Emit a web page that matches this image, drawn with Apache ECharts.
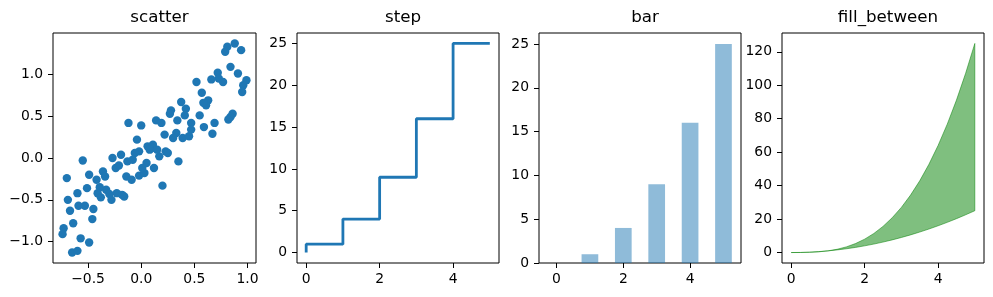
<!DOCTYPE html>
<html><head><meta charset="utf-8">
<script src="https://cdn.jsdelivr.net/npm/echarts@6/dist/echarts.min.js"></script>
<style>html,body{margin:0;padding:0;background:#fff}#c{width:993px;height:297px}</style>
</head><body><div id="c"></div>
<script>
// ---- data ----
var titles = ["scatter", "step", "bar", "fill_between"];
var scatterX = [0.88,0.81,0.79,0.94,0.84,0.91,0.99,0.96,0.95,0.72,0.73,0.77,0.66,0.52,0.57,0.63,0.61,0.585,0.376,0.42,0.28,0.27,0.41,0.55,0.34,0.47,0.69,0.86,0.84,0.82,0.14,0.19,-0.12,0.0,0.22,0.47,0.59,0.67,0.33,0.30,0.39,0.45,-0.04,0.11,0.06,-0.02,0.23,-0.06,-0.19,-0.27,-0.55,0.17,0.25,0.35,-0.13,-0.08,0.05,0.12,-0.24,-0.21,-0.36,-0.49,-0.34,-0.14,-0.09,-0.02,0.03,-0.42,-0.70,0.20,-0.51,-0.60,-0.41,-0.33,-0.38,-0.28,-0.23,-0.16,-0.69,-0.67,-0.59,-0.53,-0.45,-0.46,-0.64,-0.73,-0.74,-0.57,-0.49,-0.65,-0.60,0.01,-0.39,-0.18,0.10,-0.30,0.08,0.15];
var scatterY = [1.37,1.33,1.27,1.29,1.09,1.01,0.93,0.87,0.79,1.02,0.95,0.91,0.94,0.91,0.78,0.69,0.63,0.66,0.67,0.59,0.57,0.53,0.51,0.51,0.45,0.42,0.42,0.53,0.49,0.46,0.45,0.42,0.42,0.39,0.28,0.34,0.37,0.29,0.30,0.24,0.24,0.26,0.22,0.16,0.14,0.08,0.08,0.06,0.04,0.0,-0.03,0.02,0.06,-0.04,-0.04,-0.02,-0.06,-0.12,-0.12,-0.09,-0.16,-0.20,-0.22,-0.22,-0.26,-0.21,-0.18,-0.26,-0.24,-0.33,-0.36,-0.42,-0.42,-0.38,-0.47,-0.50,-0.42,-0.46,-0.50,-0.63,-0.57,-0.57,-0.61,-0.73,-0.78,-0.84,-0.91,-0.96,-1.01,-1.13,-1.11,-0.12,-0.35,-0.44,0.12,-0.43,0.10,0.10];
var stepX = [0, 1, 2, 3, 4, 5];
var stepY = [0, 1, 4, 9, 16, 25];
var barX = [0, 1, 2, 3, 4, 5];
var barY = [0, 1, 4, 9, 16, 25];
var fillX = [0,0.25,0.5,0.75,1,1.25,1.5,1.75,2,2.25,2.5,2.75,3,3.25,3.5,3.75,4,4.25,4.5,4.75,5];
var fillLow = [0,0.06,0.25,0.56,1,1.56,2.25,3.06,4,5.06,6.25,7.56,9,10.56,12.25,14.06,16,18.06,20.25,22.56,25];
var fillHigh = [0,0.02,0.13,0.42,1,1.95,3.38,5.36,8,11.39,15.63,20.8,27,34.33,42.88,52.73,64,76.77,91.13,107.17,125];
var scatterXTicks = [-0.5, 0.0, 0.5, 1.0];
var scatterYTicks = [-1.0, -0.5, 0.0, 0.5, 1.0];
var stepXTicks = [0, 2, 4];
var stepYTicks = [0, 5, 10, 15, 20, 25];
var barXTicks = [0, 2, 4];
var barYTicks = [0, 5, 10, 15, 20, 25];
var fillXTicks = [0, 2, 4];
var fillYTicks = [0, 20, 40, 60, 80, 100, 120];

// ---- layout ----
var grids = [
  {left: 53, top: 33, width: 203, height: 230},
  {left: 297, top: 33, width: 202, height: 230},
  {left: 539, top: 33, width: 202, height: 230},
  {left: 782, top: 33, width: 202, height: 230}
];
var xr = [[-0.83, 1.08], [-0.25, 5.25], [-0.525, 5.525], [-0.25, 5.25]];
var yr = [[-1.255, 1.495], [-1.25, 26.25], [0, 26.25], [-6.25, 131.25]];
var xt = [scatterXTicks, stepXTicks, barXTicks, fillXTicks];
var yt = [scatterYTicks, stepYTicks, barYTicks, fillYTicks];
var FONT = "DejaVu Sans";
function fmt1(v){ var s = v.toFixed(1); return s.replace('-', '\u2212'); }
function fmt0(v){ return String(v).replace('-', '\u2212'); }

var xAxes = [], yAxes = [], titleArr = [];
for (var i = 0; i < 4; i++) {
  grids[i].show = true; grids[i].borderColor = '#000'; grids[i].borderWidth = 1; grids[i].containLabel = false;
  var f = i === 0 ? fmt1 : fmt0;
  xAxes.push({type: 'value', gridIndex: i, min: xr[i][0], max: xr[i][1], position: 'bottom',
    axisLine: {show: false, onZero: false}, splitLine: {show: false},
    axisTick: {show: true, inside: false, length: 5, lineStyle: {color: '#000', width: 1}, customValues: xt[i]},
    axisLabel: {show: true, customValues: xt[i], formatter: f, color: '#000', fontFamily: FONT, fontSize: 13.9, margin: 9}});
  yAxes.push({type: 'value', gridIndex: i, min: yr[i][0], max: yr[i][1], position: 'left',
    axisLine: {show: false, onZero: false}, splitLine: {show: false},
    axisTick: {show: true, inside: false, length: 5, lineStyle: {color: '#000', width: 1}, customValues: yt[i]},
    axisLabel: {show: true, customValues: yt[i], formatter: f, color: '#000', fontFamily: FONT, fontSize: 13.9, margin: 10}});
  titleArr.push({text: titles[i], left: grids[i].left + grids[i].width / 2, textAlign: 'center', top: 4,
    textStyle: {fontFamily: FONT, fontSize: 16.7, fontWeight: 'normal', color: '#000'}});
}

var scatterData = scatterX.map(function(x, k){ return [x, scatterY[k]]; });
var stepData = stepX.map(function(x, k){ return [x, stepY[k]]; });
var barData = barX.map(function(x, k){ return [x, barY[k]]; });

var option = {
  animation: false,
  title: titleArr,
  grid: grids,
  xAxis: xAxes,
  yAxis: yAxes,
  series: [
    {type: 'scatter', xAxisIndex: 0, yAxisIndex: 0, data: scatterData, symbolSize: 8.4,
      itemStyle: {color: '#1f77b4', opacity: 1}},
    {type: 'line', xAxisIndex: 1, yAxisIndex: 1, data: stepData, step: 'start', showSymbol: false,
      lineStyle: {color: '#1f77b4', width: 2.8}},
    {type: 'custom', xAxisIndex: 2, yAxisIndex: 2, data: barData,
      renderItem: function(params, api){
        var x = api.value(0), y = api.value(1);
        var p0 = api.coord([x - 0.25, y]);
        var p1 = api.coord([x + 0.25, 0]);
        return {type: 'rect', shape: {x: p0[0], y: p0[1], width: p1[0] - p0[0], height: p1[1] - p0[1]},
          style: {fill: 'rgba(31,119,180,0.5)'}};
      }},
    {type: 'custom', xAxisIndex: 3, yAxisIndex: 3, data: [[0, 0]],
      renderItem: function(params, api){
        var pts = [];
        for (var k = 0; k < fillX.length; k++) pts.push(api.coord([fillX[k], fillHigh[k]]));
        for (var k2 = fillX.length - 1; k2 >= 0; k2--) pts.push(api.coord([fillX[k2], fillLow[k2]]));
        return {type: 'polygon', shape: {points: pts, smooth: 0},
          style: {fill: 'rgba(0,128,0,0.5)', stroke: 'rgba(0,128,0,0.5)', lineWidth: 1}};
      }}
  ]
};
var chart = echarts.init(document.getElementById('c'), null, {renderer: 'canvas'});
chart.setOption(option);
</script></body></html>
